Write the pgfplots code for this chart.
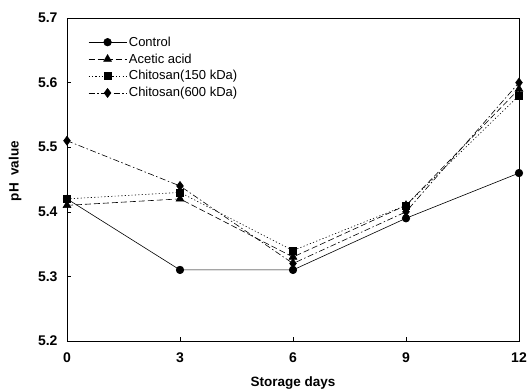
\documentclass[border=0pt]{standalone}
\usepackage{pgfplots}
\pgfplotsset{compat=1.18}
\usepackage{fontspec}
\setmainfont{Liberation Sans}
\begin{document}
\begin{tikzpicture}
\useasboundingbox (-67pt,-48pt) rectangle (461pt,341pt);
\begin{axis}[
  at={(0,0)}, anchor=south west,
  scale only axis, width=452pt, height=323pt,
  xmin=0, xmax=12, ymin=5.2, ymax=5.7,
  xtick={0,3,6,9,12}, ytick={5.2,5.3,5.4,5.5,5.6,5.7},
  /pgf/number format/assume math mode=true,
  ticklabel style={font=\fontsize{14}{16}\selectfont\bfseries},
  xticklabel style={yshift=-8pt},
  yticklabel style={xshift=-6pt, /pgf/number format/.cd, fixed, fixed zerofill, precision=1},
  tick style={black, thin}, major tick length=4pt,
  xtick pos=bottom, ytick pos=left, tick align=inside,
  axis line style={black, thick},
  xlabel={Storage days}, ylabel={pH\ \ value},
  label style={font=\fontsize{13.5}{15}\selectfont\bfseries},
  xlabel style={at={(axis description cs:0.5,-0.13)}, anchor=center},
  ylabel style={at={(axis description cs:-0.115,0.526)}, anchor=center},
  legend style={draw=none, fill=none, at={(axis description cs:0.04,0.955)}, anchor=north west,
    font=\fontsize{13}{15}\selectfont, row sep=2pt, cells={anchor=west}},
  legend image code/.code={\draw[#1] (0pt,0pt) -- (38pt,0pt); \draw[#1, solid] plot coordinates {(19pt,0pt)};},
]
\addplot[black, line width=0.6pt, mark=*, mark size=3.8pt] coordinates {(0,5.42) (3,5.31) (6,5.31) (9,5.39) (12,5.46)};
\addlegendentry{Control}
\addplot[black, line width=0.6pt, dash pattern=on 6pt off 3pt, mark=triangle*, mark size=4.5pt, mark options={solid}] coordinates {(0,5.41) (3,5.42) (6,5.33) (9,5.41) (12,5.59)};
\addlegendentry{Acetic acid}
\addplot[black, line width=0.6pt, dash pattern=on 1.2pt off 2.2pt, mark=square*, mark size=3.5pt, mark options={solid}] coordinates {(0,5.42) (3,5.43) (6,5.34) (9,5.41) (12,5.58)};
\addlegendentry{Chitosan(150 kDa)}
\addplot[black, line width=0.6pt, dash pattern=on 6pt off 2.5pt on 1.5pt off 2.5pt, mark=diamond*, mark size=4.5pt, mark options={solid}] coordinates {(0,5.51) (3,5.44) (6,5.32) (9,5.40) (12,5.60)};
\addlegendentry{Chitosan(600 kDa)}
\end{axis}
\end{tikzpicture}
\end{document}
